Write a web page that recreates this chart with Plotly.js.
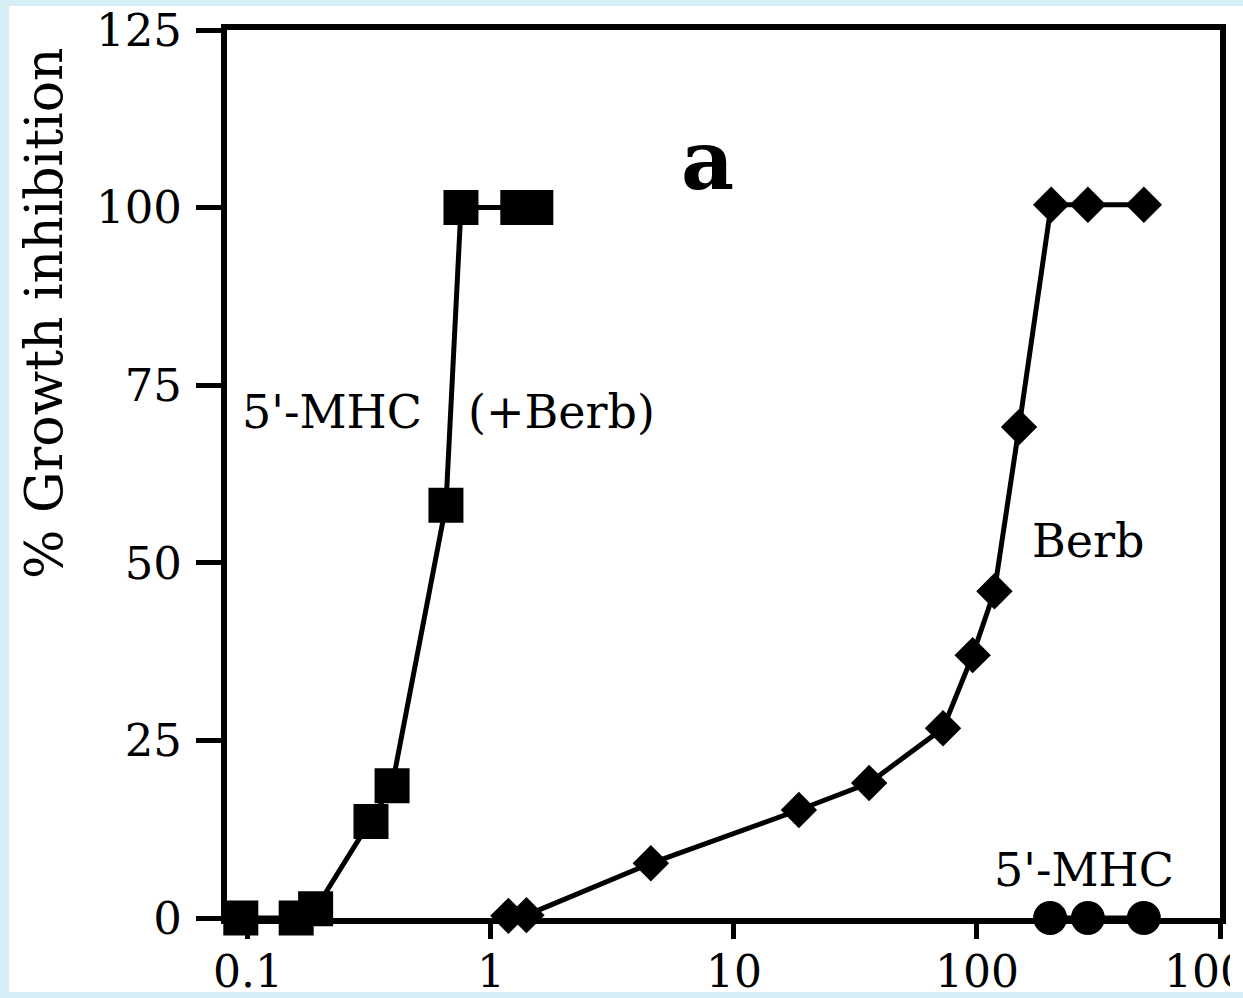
<!DOCTYPE html>
<html>
<head>
<meta charset="utf-8">
<script src="https://cdn.plot.ly/plotly-3.0.1.min.js"></script>
<style>html,body{margin:0;padding:0;background:#d5eef5;}#chart{width:1243px;height:998px;}</style>
</head>
<body>
<div id="chart"></div>
<script>
// Data
var mhcBerbX = [0.0935, 0.158, 0.19, 0.321, 0.392, 0.653, 0.753, 1.29, 1.53];
var mhcBerbY = [0, 0, 1.3, 13.6, 18.6, 58.1, 100, 100, 100];

var berbX = [1.18, 1.4, 4.55, 18.5, 36, 72.5, 96, 118, 149, 202, 286, 486];
var berbY = [0.3, 0.4, 7.7, 15.2, 19.0, 26.7, 37.0, 46.0, 69.1, 100.4, 100.4, 100.4];

var mhcX = [200, 286, 486];
var mhcY = [0, 0, 0];

var xTickVals = [0.1, 1, 10, 100, 1000];
var xTickText = ['0.1', '1', '10', '100', '1000'];
var yTickVals = [0, 25, 50, 75, 100, 125];
var yTickText = ['0', '25', '50', '75', '100', '125'];

var serif = 'DejaVu Serif, serif';

var traces = [
  {x: mhcBerbX, y: mhcBerbY, mode: 'lines+markers', type: 'scatter', name: "5'-MHC (+Berb)",
   line: {color: '#000', width: 5}, marker: {symbol: 'square', size: 35, color: '#000'}, cliponaxis: false},
  {x: berbX, y: berbY, mode: 'lines+markers', type: 'scatter', name: 'Berb',
   line: {color: '#000', width: 5}, marker: {symbol: 'diamond', size: 28, color: '#000'}, cliponaxis: false},
  {x: mhcX, y: mhcY, mode: 'lines+markers', type: 'scatter', name: "5'-MHC",
   line: {color: '#000', width: 5}, marker: {symbol: 'circle', size: 34, color: '#000'}, cliponaxis: false}
];

var L = 227, R = 1220, T = 30, B = 918;
function px(p) { return (p - L) / (R - L); }
function py(p) { return (B - p) / (B - T); }

var layout = {
  width: 1243, height: 998,
  margin: {l: L, r: 1243 - R, t: T, b: 998 - B, pad: 0},
  paper_bgcolor: '#d5eef5',
  plot_bgcolor: '#ffffff',
  showlegend: false,
  font: {family: serif, color: '#000', size: 44},
  xaxis: {
    type: 'log', range: [-1.086, 3.0],
    tickmode: 'array', tickvals: xTickVals, ticktext: xTickText,
    ticks: 'outside', ticklen: 15, tickwidth: 5, tickcolor: '#000',
    showline: true, linewidth: 6, linecolor: '#000', mirror: true,
    showgrid: false, zeroline: false,
    ticklabeloverflow: 'allow', ticklabelstandoff: -5,
    tickfont: {family: serif, size: 44, color: '#000'}
  },
  yaxis: {
    range: [0, 125],
    tickmode: 'array', tickvals: yTickVals, ticktext: yTickText,
    ticks: 'outside', ticklen: 25, tickwidth: 5, tickcolor: '#000',
    showline: true, linewidth: 6, linecolor: '#000', mirror: true,
    showgrid: false, zeroline: false,
    ticklabelstandoff: 5,
    tickfont: {family: serif, size: 45, color: '#000'}
  },
  shapes: [
    {type: 'rect', xref: 'paper', yref: 'paper', layer: 'below',
     x0: px(9), x1: px(1260), y0: py(992), y1: py(6), fillcolor: '#ffffff', line: {width: 0}},
    {type: 'rect', xref: 'paper', yref: 'paper', layer: 'above',
     x0: px(1230), x1: px(1260), y0: py(992), y1: py(935), fillcolor: '#ffffff', line: {width: 0}}
  ],
  annotations: [
    {text: '% Growth inhibition', xref: 'paper', yref: 'paper', x: px(44), y: py(313),
     textangle: -90, showarrow: false, xanchor: 'center', yanchor: 'middle',
     font: {family: serif, size: 52, color: '#000'}},
    {text: '<b>a</b>', xref: 'paper', yref: 'paper', x: px(707), y: py(160),
     showarrow: false, xanchor: 'center', yanchor: 'middle',
     font: {family: serif, size: 82, color: '#000'}},
    {text: "5'-MHC", xref: 'paper', yref: 'paper', x: px(240), y: py(412),
     showarrow: false, xanchor: 'left', yanchor: 'middle',
     font: {family: serif, size: 46, color: '#000'}},
    {text: "(+Berb)", xref: 'paper', yref: 'paper', x: px(466), y: py(412),
     showarrow: false, xanchor: 'left', yanchor: 'middle',
     font: {family: serif, size: 46, color: '#000'}},
    {text: 'Berb', xref: 'paper', yref: 'paper', x: px(1088), y: py(541),
     showarrow: false, xanchor: 'center', yanchor: 'middle',
     font: {family: serif, size: 46, color: '#000'}},
    {text: "5'-MHC", xref: 'paper', yref: 'paper', x: px(1084), y: py(870),
     showarrow: false, xanchor: 'center', yanchor: 'middle',
     font: {family: serif, size: 46, color: '#000'}}
  ]
};

Plotly.newPlot('chart', traces, layout, {displayModeBar: false, staticPlot: true});
</script>
</body>
</html>
